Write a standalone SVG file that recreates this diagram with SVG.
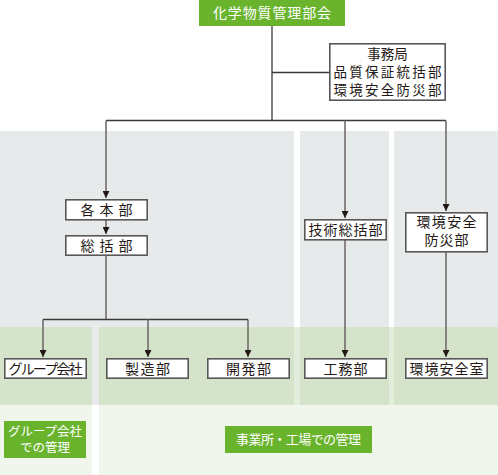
<svg xmlns="http://www.w3.org/2000/svg" width="498" height="475" viewBox="0 0 498 475">
<style>
.box{fill:#fff;stroke:#595757;stroke-width:1.6}
.t{font-family:"Noto Sans CJK JP","Noto Sans",sans-serif;font-size:14px;fill:#231815;text-anchor:middle}
.w{font-family:"Noto Sans CJK JP","Noto Sans",sans-serif;font-size:13px;fill:#fff;text-anchor:middle}
.ln{fill:none;stroke:#3e3a39;stroke-width:1.3}
.lg{fill:none;stroke:#6b6463;stroke-width:1.5}
</style>
<defs>
<marker id="a" viewBox="0 0 8 7" refX="7" refY="3.5" markerWidth="8" markerHeight="7" markerUnits="userSpaceOnUse" orient="auto">
<path d="M0,0 L7,3.5 L0,7 Z" fill="#231815"/>
</marker>
</defs>
<g id="background">
<rect x="0" y="131" width="294" height="196" fill="#e6eaeb"/>
<rect x="300" y="131" width="89" height="196" fill="#e6eaeb"/>
<rect x="394" y="131" width="104" height="196" fill="#e6eaeb"/>
<rect x="92" y="327" width="7" height="78" fill="#e6eaeb"/>
<rect x="99" y="327" width="399" height="148" fill="#f0f6eb"/>
<rect x="294" y="327" width="6" height="78" fill="#e3eddb"/>
<rect x="389" y="327" width="5" height="78" fill="#e3eddb"/>
<rect x="0" y="327" width="92" height="78" fill="#d4e3c9"/>
<rect x="99" y="327" width="195" height="78" fill="#d4e3c9"/>
<rect x="300" y="327" width="89" height="78" fill="#d4e3c9"/>
<rect x="394" y="327" width="104" height="78" fill="#d4e3c9"/>
<rect x="0" y="405" width="92" height="70" fill="#f0f6eb"/>
</g>
<g id="connectors">
<path class="ln" d="M272,26 V120.5"/>
<path class="ln" d="M272,72.5 H329"/>
<path class="ln" d="M106,120.5 H446"/>
<path class="lg" d="M106,120.5 V198" marker-end="url(#a)"/>
<path class="lg" d="M106,220 V234" marker-end="url(#a)"/>
<path class="lg" d="M106,255 V319.5"/>
<path class="ln" d="M43,319.5 H248"/>
<path class="lg" d="M43,319.5 V357" marker-end="url(#a)"/>
<path class="lg" d="M148,319.5 V357" marker-end="url(#a)"/>
<path class="lg" d="M248,319.5 V357" marker-end="url(#a)"/>
<path class="lg" d="M345,120.5 V218" marker-end="url(#a)"/>
<path class="lg" d="M345,240 V357" marker-end="url(#a)"/>
<path class="lg" d="M446,120.5 V211" marker-end="url(#a)"/>
<path class="lg" d="M446,252 V357" marker-end="url(#a)"/>
</g>
<g id="n-title">
<rect x="199" y="0" width="146" height="26" fill="#6ab42d"/>
<text x="272" y="18" class="w" style="font-size:14px" textLength="118" lengthAdjust="spacing">化学物質管理部会</text>
</g>
<g id="n-jimukyoku">
<rect class="box" x="329.8" y="43.8" width="115.4" height="56.4"/>
<text class="t" style="font-size:13.5px"><tspan x="387.5" y="58.5">事務局</tspan><tspan x="387.5" y="76.5" textLength="108" lengthAdjust="spacing">品質保証統括部</tspan><tspan x="387.5" y="94.5" textLength="108" lengthAdjust="spacing">環境安全防災部</tspan></text>
</g>
<g id="n-kakuhonbu">
<rect class="box" x="65.8" y="199.8" width="81.4" height="20"/>
<text x="106.5" y="214.8" class="t" textLength="52" lengthAdjust="spacing">各本部</text>
</g>
<g id="n-soukatsubu">
<rect class="box" x="65.8" y="235.8" width="81.4" height="19.4"/>
<text x="106.5" y="250.5" class="t" textLength="52" lengthAdjust="spacing">総括部</text>
</g>
<g id="n-gijutsu">
<rect class="box" x="304.8" y="219.8" width="81.4" height="20"/>
<text x="345.5" y="234.8" class="t" textLength="74" lengthAdjust="spacing">技術総括部</text>
</g>
<g id="n-kankyobousai">
<rect class="box" x="405.8" y="212.8" width="81.4" height="39"/>
<text class="t"><tspan x="446.5" y="227" textLength="60" lengthAdjust="spacing">環境安全</tspan><tspan x="446.5" y="245" textLength="44" lengthAdjust="spacing">防災部</tspan></text>
</g>
<g id="n-group">
<rect class="box" x="4.8" y="358.8" width="81.4" height="19.4"/>
<text x="45.5" y="373.5" class="t" textLength="74" lengthAdjust="spacing">グループ会社</text>
</g>
<g id="n-seizou">
<rect class="box" x="106.8" y="358.8" width="81.4" height="19.4"/>
<text x="147.5" y="373.5" class="t" textLength="45" lengthAdjust="spacing">製造部</text>
</g>
<g id="n-kaihatsu">
<rect class="box" x="207.8" y="358.8" width="81.4" height="19.4"/>
<text x="248.5" y="373.5" class="t" textLength="45" lengthAdjust="spacing">開発部</text>
</g>
<g id="n-koumu">
<rect class="box" x="304.8" y="358.8" width="81.4" height="19.4"/>
<text x="345.5" y="373.5" class="t" textLength="44" lengthAdjust="spacing">工務部</text>
</g>
<g id="n-kankyoshitsu">
<rect class="box" x="405.8" y="358.8" width="81.4" height="19.4"/>
<text x="446.5" y="373.5" class="t" textLength="74" lengthAdjust="spacing">環境安全室</text>
</g>
<g id="n-label-group">
<rect x="4" y="421" width="82" height="37" fill="#6ab42d"/>
<text class="w" style="font-size:12.5px"><tspan x="45" y="436" textLength="74" lengthAdjust="spacing">グループ会社</tspan><tspan x="45" y="452">での管理</tspan></text>
</g>
<g id="n-label-jigyousho">
<rect x="225" y="426" width="147" height="27" fill="#6ab42d"/>
<text x="298.5" y="444" class="w" textLength="125" lengthAdjust="spacing">事業所・工場での管理</text>
</g>
</svg>
